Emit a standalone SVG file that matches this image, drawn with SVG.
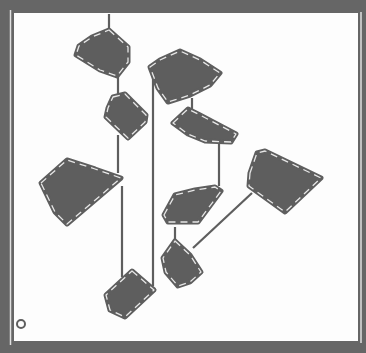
<svg xmlns="http://www.w3.org/2000/svg" width="366" height="353" viewBox="0 0 366 353">
<style>
.n{fill:#5e5e5e;stroke:#5e5e5e;stroke-width:5;stroke-linejoin:round}
.d{fill:none;stroke:#e6e6e6;stroke-width:1.3;stroke-dasharray:7 5;stroke-linejoin:round}
.c line{stroke:#5e5e5e;stroke-width:2.2}
</style>
<rect x="0" y="0" width="366" height="353" fill="#666"/>
<rect x="14" y="13" width="344" height="328" fill="#fdfdfd"/>
<line x1="10.5" y1="10" x2="10.5" y2="345" stroke="#e0e0e0" stroke-width="1.5"/>
<line x1="361" y1="12" x2="361" y2="343" stroke="#e0e0e0" stroke-width="1.5"/>
<circle cx="21" cy="324" r="4" fill="none" stroke="#5e5e5e" stroke-width="2"/>
<g class="c">
<line x1="109" y1="14" x2="109" y2="32"/>
<line x1="118" y1="76" x2="118" y2="96"/>
<line x1="118" y1="135" x2="118" y2="173"/>
<line x1="122" y1="186" x2="122" y2="277"/>
<line x1="153" y1="68" x2="153" y2="286"/>
<line x1="192" y1="98" x2="192" y2="109"/>
<line x1="219" y1="142" x2="219" y2="186"/>
<line x1="175" y1="227" x2="175" y2="241"/>
<line x1="193" y1="248" x2="252" y2="193"/>
</g>
<g id="n1"><polygon class="n" points="109,30 128,47 128,62 117,76 100,70 76,55 79,46 92,37"/><polygon class="d" points="109,30 128,47 128,62 117,76 100,70 76,55 79,46 92,37"/></g>
<g id="n2"><polygon class="n" points="113,97 125,94 146,115 145,122 128,138 106,117 108,108"/><polygon class="d" points="113,97 125,94 146,115 145,122 128,138 106,117 108,108"/></g>
<g id="n3"><polygon class="n" points="150,67 160,60 180,51 200,60 220,73 210,85 190,95 168,102 158,88"/><polygon class="d" points="150,67 160,60 180,51 200,60 220,73 210,85 190,95 168,102 158,88"/></g>
<g id="n4"><polygon class="n" points="41,183 67,160 95,169 121,178 67,224 55,212"/><polygon class="d" points="41,183 67,160 95,169 121,178 67,224 55,212"/></g>
<g id="n5"><polygon class="n" points="173,123 188,109 200,115 236,134 231,142 205,141 188,134"/><polygon class="d" points="173,123 188,109 200,115 236,134 231,142 205,141 188,134"/></g>
<g id="n6"><polygon class="n" points="164,215 175,195 195,190 215,187 221,191 198,222 168,222"/><polygon class="d" points="164,215 175,195 195,190 215,187 221,191 198,222 168,222"/></g>
<g id="n7"><polygon class="n" points="175,241 190,255 201,272 190,282 178,286 166,272 163,258"/><polygon class="d" points="175,241 190,255 201,272 190,282 178,286 166,272 163,258"/></g>
<g id="n8"><polygon class="n" points="132,271 154,290 125,317 110,310 106,295"/><polygon class="d" points="132,271 154,290 125,317 110,310 106,295"/></g>
<g id="n9"><polygon class="n" points="250,173 257,153 265,151 321,178 285,212 249,186"/><polygon class="d" points="250,173 257,153 265,151 321,178 285,212 249,186"/></g>
</svg>
